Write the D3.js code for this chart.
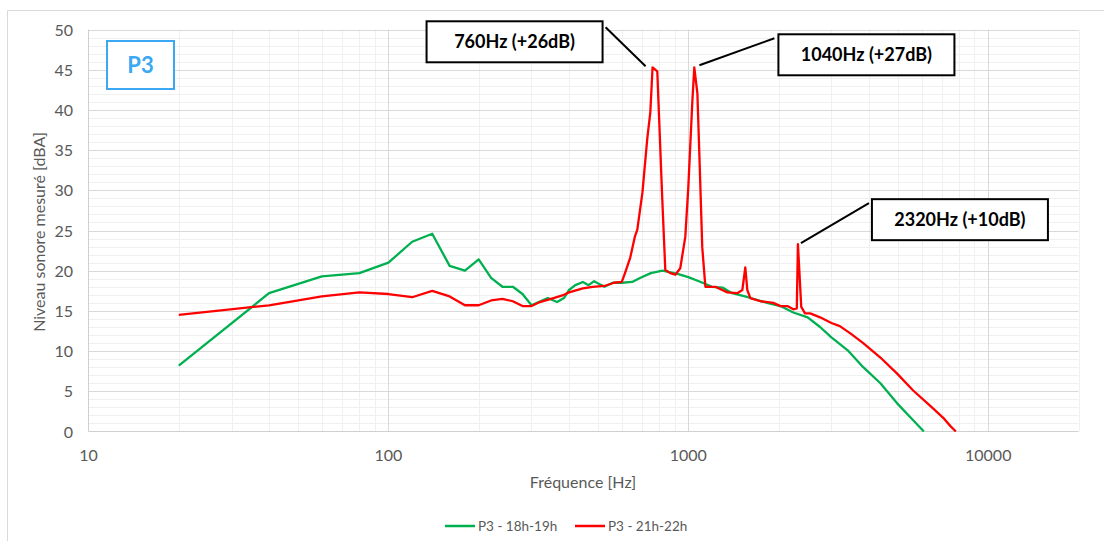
<!DOCTYPE html>
<html>
<head>
<meta charset="utf-8">
<script src="https://cdn.jsdelivr.net/npm/d3@7"></script>
<style>
  body { margin: 0; background: #fff; }
  svg { display: block; font-family: Lato, "Open Sans", sans-serif; }
</style>
</head>
<body>
<script>
// frequence [Hz] / niveau [dBA]
var greenFreq = [20, 40, 60, 80, 100, 120, 140, 160, 180, 200, 220, 240, 260, 280, 300, 340, 365, 385, 400, 420, 445, 465, 485, 525, 560, 600, 650, 690, 750, 820, 920, 1000, 1100, 1200, 1300, 1400, 1580, 1830, 2030, 2240, 2500, 2750, 3000, 3400, 3830, 4370, 4970, 5620, 6100];
var greenVal = [8.2, 17.2, 19.3, 19.7, 21.0, 23.6, 24.6, 20.6, 20.0, 21.4, 19.1, 18.0, 18.0, 17.1, 15.7, 16.6, 16.1, 16.6, 17.6, 18.2, 18.6, 18.2, 18.7, 18.0, 18.5, 18.5, 18.6, 19.1, 19.7, 20.0, 19.6, 19.2, 18.6, 18.0, 17.9, 17.2, 16.7, 16.0, 15.6, 14.8, 14.2, 13.0, 11.7, 10.1, 8.0, 6.0, 3.5, 1.4, 0];
var redFreq = [20, 40, 60, 80, 100, 120, 140, 160, 180, 200, 220, 240, 260, 280, 300, 320, 355, 385, 400, 445, 480, 525, 565, 600, 615, 640, 663, 676, 703, 730, 747, 760, 788, 819, 838, 871, 905, 940, 977, 1000, 1031, 1047, 1072, 1088, 1113, 1140, 1230, 1350, 1456, 1514, 1549, 1573, 1610, 1740, 1920, 2030, 2140, 2240, 2300, 2320, 2380, 2450, 2550, 2750, 3000, 3200, 3470, 3830, 4370, 4970, 5620, 6410, 7080, 7470, 7800];
var redVal = [14.5, 15.7, 16.8, 17.3, 17.1, 16.7, 17.5, 16.8, 15.7, 15.7, 16.3, 16.5, 16.2, 15.6, 15.6, 16.1, 16.6, 17.0, 17.3, 17.8, 18.0, 18.1, 18.5, 18.6, 19.7, 21.6, 24.2, 25.1, 29.7, 36.5, 39.7, 45.3, 44.8, 28.8, 20.1, 19.7, 19.5, 20.3, 24.2, 30.4, 40.9, 45.3, 42.1, 34.7, 22.9, 18.0, 18.0, 17.3, 17.2, 17.6, 20.4, 17.6, 16.6, 16.2, 16.0, 15.6, 15.6, 15.2, 15.3, 23.3, 15.5, 14.7, 14.7, 14.2, 13.5, 13.1, 12.2, 11.0, 9.2, 7.2, 5.1, 3.2, 1.7, 0.7, 0];
var seriesNames = ["P3 - 18h-19h", "P3 - 21h-22h"];
var seriesColors = ["#00b050", "#ff0000"];
var xTicks = [10, 100, 1000, 10000];
var yTicks = [0, 5, 10, 15, 20, 25, 30, 35, 40, 45, 50];
var peakFreq = [760, 1040, 2320];
var peakVal = [45.3, 45.3, 23.3];
var peakLabels = ["760Hz (+26dB)", "1040Hz (+27dB)", "2320Hz (+10dB)"];

var W = 1104, H = 541;
var m = { top: 29.5, left: 88.5, right: 1078.5, bottom: 431.5 };
var svg = d3.select("body").append("svg").attr("width", W).attr("height", H);

// cadre du graphique
svg.append("path").attr("d", "M7.5,545V10.5H1104").attr("fill", "none").attr("stroke", "#d9d9d9");

var x = d3.scaleLog().domain([10, 20000]).range([m.left, m.right]);
var y = d3.scaleLinear().domain([0, 50]).range([m.bottom, m.top]);

var g = svg.append("g");
// grille mineure
var minorY = d3.range(0, 51).filter(function (v) { return v % 5; });
g.selectAll(".hmin").data(minorY).enter().append("line")
  .attr("x1", m.left).attr("x2", m.right)
  .attr("y1", function (d) { return Math.round(y(d)) + 0.5; })
  .attr("y2", function (d) { return Math.round(y(d)) + 0.5; })
  .attr("stroke", "#f0f0f0");
var minorX = [];
[10, 100, 1000, 10000].forEach(function (dec) {
  for (var k = 2; k <= 9; k++) if (dec * k <= 20000) minorX.push(dec * k);
});
g.selectAll(".vmin").data(minorX).enter().append("line")
  .attr("y1", m.top).attr("y2", m.bottom)
  .attr("x1", function (d) { return Math.round(x(d)) + 0.5; })
  .attr("x2", function (d) { return Math.round(x(d)) + 0.5; })
  .attr("stroke", "#f0f0f0");
// grille majeure
g.selectAll(".hmaj").data(yTicks.slice(1)).enter().append("line")
  .attr("x1", m.left).attr("x2", m.right)
  .attr("y1", function (d) { return Math.round(y(d)) + 0.5; })
  .attr("y2", function (d) { return Math.round(y(d)) + 0.5; })
  .attr("stroke", "#d9d9d9");
g.selectAll(".vmaj").data(xTicks.slice(1)).enter().append("line")
  .attr("y1", m.top).attr("y2", m.bottom)
  .attr("x1", function (d) { return Math.round(x(d)) + 0.5; })
  .attr("x2", function (d) { return Math.round(x(d)) + 0.5; })
  .attr("stroke", "#d9d9d9");
// axes
g.append("line").attr("x1", m.left).attr("x2", m.left).attr("y1", m.top).attr("y2", m.bottom).attr("stroke", "#d0d0d0");
g.append("line").attr("x1", m.left).attr("x2", m.right).attr("y1", m.bottom).attr("y2", m.bottom).attr("stroke", "#d0d0d0");

svg.selectAll(".ylab").data(yTicks).enter().append("text")
  .attr("x", 73).attr("y", function (d) { return y(d) + 6; })
  .attr("text-anchor", "end").attr("font-size", 16).attr("fill", "#595959")
  .text(function (d) { return d; });
svg.selectAll(".xlab").data(xTicks).enter().append("text")
  .attr("x", function (d) { return x(d); }).attr("y", 461)
  .attr("text-anchor", "middle").attr("font-size", 16).attr("fill", "#595959")
  .text(function (d) { return d; });

svg.append("text").attr("transform", "translate(45,232) rotate(-90)")
  .attr("text-anchor", "middle").attr("font-size", 16).attr("fill", "#595959")
  .text("Niveau sonore mesuré [dBA]");
svg.append("text").attr("x", 583).attr("y", 488)
  .attr("text-anchor", "middle").attr("font-size", 16).attr("fill", "#595959")
  .text("Fréquence [Hz]");

// courbes
var line = d3.line()
  .x(function (d) { return x(d[0]); })
  .y(function (d) { return y(d[1]); });
var series = [d3.zip(greenFreq, greenVal), d3.zip(redFreq, redVal)];
svg.selectAll(".serie").data(series).enter().append("path")
  .attr("d", line).attr("fill", "none")
  .attr("stroke", function (d, i) { return seriesColors[i]; })
  .attr("stroke-width", 2.3).attr("stroke-linejoin", "round");

// legende
var leg = svg.selectAll(".leg").data(seriesNames).enter().append("g")
  .attr("transform", function (d, i) { return "translate(" + (445 + i * 130) + ",526)"; });
leg.append("line").attr("x1", 0).attr("x2", 30)
  .attr("stroke", function (d, i) { return seriesColors[i]; }).attr("stroke-width", 2.5);
leg.append("text").attr("x", 33).attr("y", 4.5).attr("font-size", 13.5).attr("fill", "#595959")
  .text(function (d) { return d; });

// P3
svg.append("rect").attr("x", 107).attr("y", 41).attr("width", 67).attr("height", 48)
  .attr("fill", "#fff").attr("stroke", "#3aa8f2").attr("stroke-width", 2);
svg.append("text").attr("x", 140.5).attr("y", 73).attr("text-anchor", "middle")
  .attr("font-size", 22).attr("font-weight", "bold").attr("fill", "#3aa8f2").text("P3");

// annotations des pics
var boxOff = [[-226, -46], [85, -33], [74, -45]];
var lineFrom = [[-47, -40], [81, -29], [71, -41]];
var lineTo = [[-7, -1], [6, -2], [3, -1]];
var ann = svg.selectAll(".ann").data(peakLabels).enter().append("g");
ann.append("line")
  .attr("x1", function (d, i) { return x(peakFreq[i]) + lineFrom[i][0]; })
  .attr("y1", function (d, i) { return y(peakVal[i]) + lineFrom[i][1]; })
  .attr("x2", function (d, i) { return x(peakFreq[i]) + lineTo[i][0]; })
  .attr("y2", function (d, i) { return y(peakVal[i]) + lineTo[i][1]; })
  .attr("stroke", "#000").attr("stroke-width", 2);
ann.append("rect")
  .attr("x", function (d, i) { return x(peakFreq[i]) + boxOff[i][0]; })
  .attr("y", function (d, i) { return y(peakVal[i]) + boxOff[i][1]; })
  .attr("width", 176).attr("height", 41)
  .attr("fill", "#fff").attr("stroke", "#000").attr("stroke-width", 2);
ann.append("text")
  .attr("x", function (d, i) { return x(peakFreq[i]) + boxOff[i][0] + 88; })
  .attr("y", function (d, i) { return y(peakVal[i]) + boxOff[i][1] + 27; })
  .attr("text-anchor", "middle").attr("font-size", 18).attr("font-weight", "bold").attr("fill", "#000")
  .text(function (d) { return d; });
</script>
</body>
</html>
